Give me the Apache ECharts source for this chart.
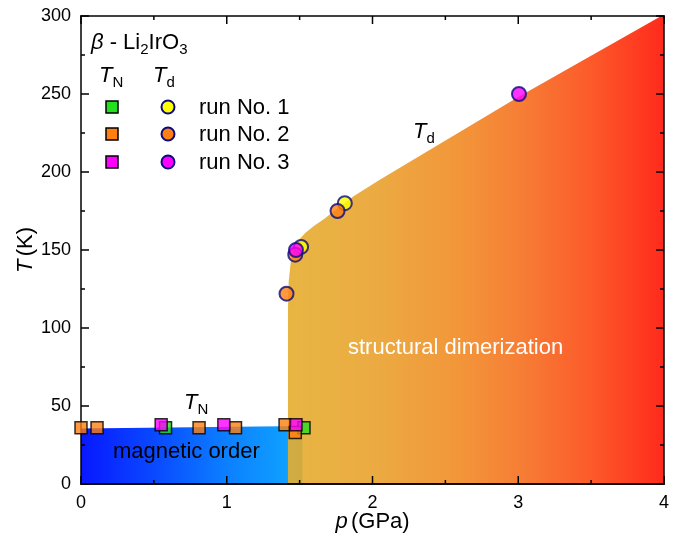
<!DOCTYPE html>
<html>
<head>
<meta charset="utf-8">
<script src="https://cdn.jsdelivr.net/npm/echarts@6/dist/echarts.min.js"></script>
<style>
  html, body { margin: 0; padding: 0; background: #fff; }
  #chart { width: 682px; height: 535px; }
</style>
</head>
<body>
<div id="chart"></div>
<script>
// Néel temperatures T_N, [p (GPa), T (K)]
const tnRun1 = [[0.58, 36], [1.53, 36]];
const tnRun2 = [[0.0, 36], [0.11, 36], [0.81, 36], [1.06, 36], [1.40, 38], [1.47, 33]];
const tnRun3 = [[0.55, 38], [0.98, 38], [1.475, 38]];

// Dimerization temperatures T_d, [p (GPa), T (K)]
const tdRun1 = [[1.51, 152], [1.81, 180]];
const tdRun2 = [[1.41, 122], [1.47, 147], [1.76, 175]];
const tdRun3 = [[1.475, 150], [3.005, 250]];

// Phase boundaries (upper edge of each shaded region)
const magneticEdge = [[0, 35.5], [1.52, 37.2]];
const dimerEdge = [[1.42, 0], [1.42, 112], [1.425, 130], [1.44, 143], [1.46, 150], [1.5, 157],
                   [1.54, 161], [1.6, 165.5], [1.67, 170], [1.75, 176], [1.87, 184.5],
                   [2.05, 195], [3.0, 248], [4.0, 301]];

// Axis ranges and pressure tick positions (major at whole GPa, minor halfway)
const pRange = [0, 4];
const tRange = [0, 300];
const pTickValues = [0, 0.5, 1, 1.5, 2, 2.5, 3, 3.5, 4];
const tMajor = 50;

const FONT = 'Liberation Sans, Arial, Helvetica, sans-serif';
const chart = echarts.init(document.getElementById('chart'), null, { renderer: 'canvas' });

const black = { color: '#000', width: 1.5 };
const tickLabel = { show: true, color: '#000', fontSize: 18, fontFamily: FONT, margin: 10 };

// temperature axes on the left and right edges, with minor ticks
function tAxis(position, extra) {
  return Object.assign({
    type: 'value', min: tRange[0], max: tRange[1], interval: tMajor, position, z: 10,
    axisLine: { show: true, onZero: false, lineStyle: black },
    axisTick: { show: true, inside: true, length: 8, lineStyle: black },
    minorTick: { show: true, splitNumber: 2, length: 4, lineStyle: black },
    splitLine: { show: false },
    axisLabel: { show: false }
  }, extra || {});
}

function hGrad(stops) {
  return new echarts.graphic.LinearGradient(0, 0, 1, 0, stops);
}

function squares(name, data, c) {
  return { name, type: 'scatter', data, symbol: 'rect', symbolSize: 12, z: 20,
           itemStyle: { color: c, borderColor: '#000', borderWidth: 1.5 }, emphasis: { disabled: true } };
}
function circles(name, data, c) {
  return { name, type: 'scatter', data, symbol: 'circle', symbolSize: 14, z: 20,
           itemStyle: { color: c, borderColor: '#0a0a80', borderWidth: 2 }, emphasis: { disabled: true } };
}

const sub = { fontSize: 15, fontFamily: FONT, color: '#000', verticalAlign: 'top', padding: [10, 0, 0, 0], lineHeight: 26 };
const main = { fontSize: 22, fontFamily: FONT, color: '#000', verticalAlign: 'top', lineHeight: 26 };
const ital = Object.assign({}, main, { fontStyle: 'italic' });
const richT = { n: main, i: ital, s: sub };
const nameRich = {
  i: { fontSize: 22, fontFamily: FONT, color: '#000', fontStyle: 'italic' },
  n: { fontSize: 22, fontFamily: FONT, color: '#000' }
};

function label(x, y, text) {
  return { type: 'text', left: x, top: y, z: 30, style: { text, rich: richT } };
}

const legendRows = [
  { y: 107, sq: '#22e01e', ci: '#ffff00', text: 'run No. 1' },
  { y: 134, sq: '#ff7f10', ci: '#ff7f10', text: 'run No. 2' },
  { y: 162, sq: '#ff00ff', ci: '#ff00ff', text: 'run No. 3' }
];
const legendGraphics = [];
legendRows.forEach(r => {
  legendGraphics.push({ type: 'rect', shape: { x: 106, y: r.y - 6, width: 12, height: 12 }, z: 30,
                        style: { fill: r.sq, stroke: '#000', lineWidth: 1.5 } });
  legendGraphics.push({ type: 'circle', shape: { cx: 168, cy: r.y, r: 6.5 }, z: 30,
                        style: { fill: r.ci, stroke: '#0a0a80', lineWidth: 2 } });
  legendGraphics.push({ type: 'text', left: 199, top: r.y - 10, z: 30,
                        style: { text: r.text, fontSize: 22, fontFamily: FONT, fill: '#000' } });
});

const textGraphics = [
  label(91, 32, '{i|β}{n| - Li}{s|2}{n|IrO}{s|3}'),
  label(99, 65, '{i|T}{s|N}'),
  label(153, 65, '{i|T}{s|d}'),
  label(413, 121, '{i|T}{s|d}'),
  label(184, 392, '{i|T}{s|N}'),
  { type: 'text', left: 113, top: 441, z: 30,
    style: { text: 'magnetic order', fontSize: 22, fontFamily: FONT, fill: '#000' } },
  { type: 'text', left: 348, top: 337, z: 30,
    style: { text: 'structural dimerization', fontSize: 22, fontFamily: FONT, fill: '#fff' } }
];

chart.setOption({
  animation: false,
  backgroundColor: '#fff',
  grid: { left: 81, right: 18, top: 16, bottom: 51, containLabel: false, outerBoundsMode: 'none' },
  xAxis: {
    type: 'value', min: pRange[0], max: pRange[1], interval: 1, position: 'bottom', z: 10,
    axisLine: { show: true, onZero: false, lineStyle: black },
    axisTick: { show: false },
    splitLine: { show: false },
    axisLabel: tickLabel,
    name: '{i|p} {n|(GPa)}', nameLocation: 'middle', nameGap: 27, nameMoveOverlap: false,
    nameTextStyle: { rich: nameRich }
  },
  yAxis: [
    tAxis('left', {
      axisLabel: tickLabel,
      name: '{i|T} {n|(K)}', nameLocation: 'middle', nameGap: 44, nameMoveOverlap: false,
      nameTextStyle: { rich: nameRich } }),
    tAxis('right')
  ],
  series: [
    {
      name: 'magnetic order', type: 'line', data: magneticEdge, symbol: 'none', z: 1,
      lineStyle: { width: 0 },
      areaStyle: { opacity: 1, color: hGrad([
        { offset: 0, color: '#0818ff' },
        { offset: 0.35, color: '#0a4cff' },
        { offset: 0.66, color: '#0c80ff' },
        { offset: 1, color: '#10a8ff' }]) }
    },
    {
      name: 'structural dimerization', type: 'line', data: dimerEdge, symbol: 'none', z: 2,
      lineStyle: { width: 0 },
      areaStyle: { opacity: 0.9, color: hGrad([
        { offset: 0, color: '#e5ad2d' },
        { offset: 0.225, color: '#e9a22d' },
        { offset: 0.457, color: '#f18a24' },
        { offset: 0.612, color: '#f5711f' },
        { offset: 0.806, color: '#fc4812' },
        { offset: 1, color: '#ff1203' }]) }
    },
    squares('TN run 1', tnRun1, '#22e01e'),
    squares('TN run 2', tnRun2, '#ff7f10'),
    squares('TN run 3', tnRun3, '#ff00ff'),
    circles('Td run 1', tdRun1, '#ffff00'),
    circles('Td run 2', tdRun2, '#ff7f10'),
    circles('Td run 3', tdRun3, '#ff00ff')
  ]
});

// Top frame edge and pressure ticks on both horizontal edges, placed through the grid's scales
function frameGraphics() {
  const px = v => chart.convertToPixel({ gridIndex: 0 }, v);
  const bl = px([pRange[0], tRange[0]]);
  const tr = px([pRange[1], tRange[1]]);
  const w = 1.5;
  const els = [
    { type: 'rect', z: 25, silent: true,
      shape: { x: bl[0] - w / 2, y: tr[1] - w / 2, width: tr[0] - bl[0] + w, height: w },
      style: { fill: '#000' } },
    { type: 'rect', z: 25, silent: true,
      shape: { x: bl[0] - w / 2, y: bl[1] - w / 2, width: tr[0] - bl[0] + w, height: w },
      style: { fill: '#000' } }
  ];
  pTickValues.forEach(v => {
    const len = Number.isInteger(v) ? 8 : 4;
    const x = px([v, tRange[0]])[0];
    els.push({ type: 'rect', z: 25, silent: true,
               shape: { x: x - w / 2, y: bl[1] - len, width: w, height: len }, style: { fill: '#000' } });
    els.push({ type: 'rect', z: 25, silent: true,
               shape: { x: x - w / 2, y: tr[1], width: w, height: len }, style: { fill: '#000' } });
  });
  return els;
}

chart.setOption({ graphic: textGraphics.concat(legendGraphics, frameGraphics()) });
</script>
</body>
</html>
